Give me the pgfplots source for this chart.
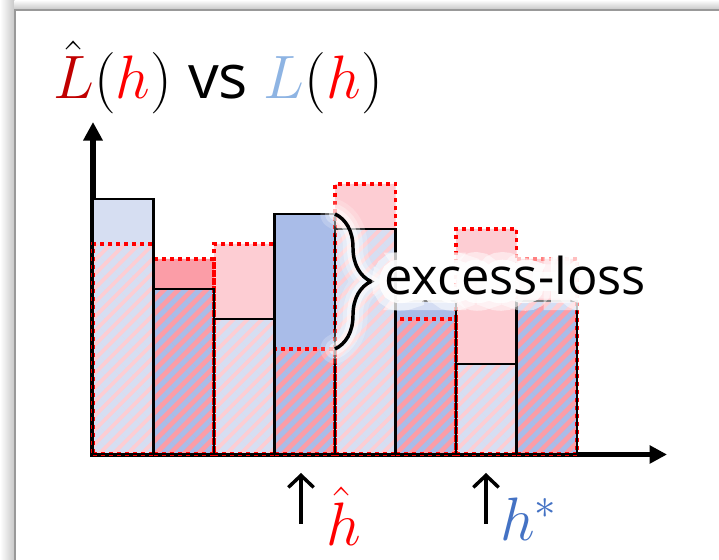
\RequirePackage{fix-cm}
\documentclass[border=0pt]{standalone}
\usepackage[no-math]{fontspec}
\usepackage{pgfplots}
\pgfplotsset{compat=1.18}
\usepackage{pgfplotstable}
\usetikzlibrary{arrows.meta,patterns.meta,decorations.pathreplacing}
\setmainfont{Open Sans}
% fat white copies of a label, used as a halo behind it
\newfontfamily\halowide{Open Sans}[FakeBold=60]
\newfontfamily\halonarrow{Open Sans}[FakeBold=30]

\definecolor{lhatred}{HTML}{C00000}
\definecolor{hred}{HTML}{FF0000}
\definecolor{lblue}{HTML}{8EB4E3}
\definecolor{hstarblue}{HTML}{4472C4}
\definecolor{blueA}{HTML}{D6DEF2}
\definecolor{pinkA}{HTML}{FDCDD3}
\definecolor{blueB}{HTML}{A9BCE8}
\definecolor{pinkB}{HTML}{FB9DA7}

% true loss L(h) and empirical loss \hat L(h), one bin per hypothesis
\pgfplotstableread{
x    L     Lhat
0.5  0.85  0.70
2.5  0.45  0.70
4.5  0.75  0.90
6.5  0.30  0.75
}\oddbins
\pgfplotstableread{
x    L     Lhat
1.5  0.55  0.65
3.5  0.80  0.35
5.5  0.51  0.45
7.5  0.51  0.65
}\evenbins

\begin{document}
\begin{tikzpicture}
% slide frame and the two axis arrows (pixel grid, origin top left)
\begin{scope}[x=0.75pt,y=-0.75pt,shift={(0pt,420pt)}]
  \shade[left color=white,right color=black!22] (0,0) rectangle (14.5,560);
  \shade[top color=white,bottom color=black!22] (14.5,0) rectangle (719,9.5);
  \draw[black!40,line width=1.2pt] (15.2,560) -- (15.2,10.3) -- (719,10.3);
  \draw[line width=3.9pt,-{Triangle[length=14pt,width=14pt]}] (93,457) -- (93,122);
  \draw[line width=3.9pt,-{Triangle[length=13pt,width=13pt]}] (90,454.5) -- (667,454.5);
\end{scope}

\begin{axis}[
  at={(0pt,0pt)}, anchor=south west,
  scale only axis, width=539.25pt, height=420pt,
  xmin=-1.53719, xmax=10.34711, ymin=-0.353333, ymax=1.513333,
  hide axis, clip=false,
  bin/.style={ybar, bar width=1, bar shift=0pt},
]
% solid fills
\addplot[bin, fill=blueA, draw=none] table[x=x,y=L]{\oddbins};
\addplot[bin, fill=blueB, draw=none] table[x=x,y=L]{\evenbins};
\addplot[bin, fill=pinkA, draw=none] table[x=x,y=Lhat]{\oddbins};
\addplot[bin, fill=pinkB, draw=none] table[x=x,y=Lhat]{\evenbins};
% stripes where both losses overlap
\addplot[bin, draw=none, pattern={Lines[angle=45,distance=7.5pt,line width=4.5pt]}, pattern color=blueA] table[x=x,y=L]{\oddbins};
\addplot[bin, draw=none, pattern={Lines[angle=45,distance=7.5pt,line width=3.75pt]}, pattern color=blueB] table[x=x,y=L]{\evenbins};
% outlines
\addplot[bin, fill=none, draw=hred, line width=2.6pt, dash pattern=on 3pt off 3pt] table[x=x,y=Lhat]{\oddbins};
\addplot[bin, fill=none, draw=hred, line width=2.6pt, dash pattern=on 3pt off 3pt] table[x=x,y=Lhat]{\evenbins};
\addplot[bin, fill=none, draw=black, line width=2.2pt] table[x=x,y=L]{\oddbins};
\addplot[bin, fill=none, draw=black, line width=2.2pt] table[x=x,y=L]{\evenbins};
\coordinate (btop) at (axis cs:4,0.80);
\coordinate (bbot) at (axis cs:4,0.35);
\end{axis}

\begin{scope}[x=0.75pt,y=-0.75pt,shift={(0pt,420pt)}]
  % excess-loss brace with a soft white glow
  \foreach \w/\o in {22/0.2,15/0.3,9/0.5}
    \draw[decorate,decoration={brace,amplitude=27pt},white,opacity=\o,line width=\w pt,line cap=round] (btop) -- (bbot);
  \draw[decorate,decoration={brace,amplitude=27pt},line width=2.6pt] (btop) -- (bbot);
  \node[anchor=base west,inner sep=0,text=white,text opacity=0.5] at (384,295)
    {\halowide\fontsize{38}{40}\selectfont excess-loss};
  \node[anchor=base west,inner sep=0,text=white,text opacity=0.85] at (384,295)
    {\halonarrow\fontsize{38}{40}\selectfont excess-loss};
  \node[anchor=base west,inner sep=0] at (384,295) {\fontsize{38}{40}\selectfont excess-loss};

  % title
  \node[anchor=base west,inner sep=0] at (53,99)
    {\fontsize{46}{50}\selectfont $\hat{\textcolor{lhatred}{L}}(\textcolor{hred}{h})$ vs $\textcolor{lblue}{L}(\textcolor{hred}{h})$};

  % minimisers of the empirical and the true loss
  \draw[line width=2.6pt,-{Straight Barb[length=9pt,width=19pt]}] (301,524) -- (301,473);
  \draw[line width=2.6pt,-{Straight Barb[length=9pt,width=19pt]}] (486,524) -- (486,473);
  \node[anchor=base west,inner sep=0,text=hred] at (326,546) {\fontsize{46}{50}\selectfont $\hat{h}$};
  \node[anchor=base west,inner sep=0,text=hstarblue] at (500,541) {\fontsize{46}{50}\selectfont $h^{*}$};
\end{scope}
\pgfresetboundingbox
\path[use as bounding box] (0,0) rectangle (539.25pt,420pt);
\end{tikzpicture}
\end{document}
